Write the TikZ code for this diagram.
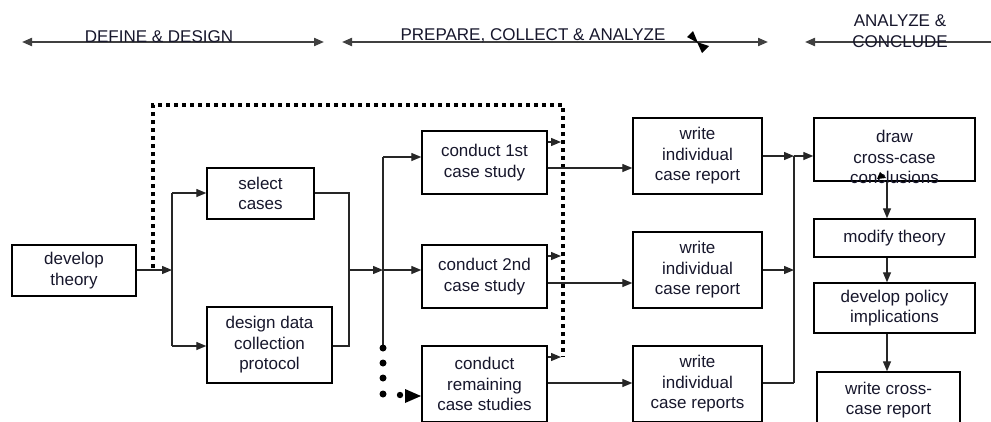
\documentclass[tikz,border=0pt]{standalone}
\usepackage{fontspec}
\setmainfont{Liberation Sans}
\usetikzlibrary{arrows.meta}
\definecolor{ink}{HTML}{17172C}
\tikzset{
  box/.style={draw=black, line width=1.4pt, inner sep=0pt, align=center,
              text=ink, font=\fontsize{17}{20.5}\selectfont},
  txt/.style={inner sep=0pt, align=center, text=ink, font=\fontsize{17}{20.5}\selectfont},
  conn/.style={draw=black!85, line width=1.3pt},
  arr/.style={conn, -{Triangle[length=10pt,width=8pt]}},
  phase/.style={draw=black!75, line width=2pt,
                {Triangle[length=10pt,width=8pt]}-{Triangle[length=10pt,width=8pt]}},
  feedback/.style={draw=black, line width=4pt, dash pattern=on 4pt off 4pt},
}
\begin{document}
\begin{tikzpicture}[x=1pt, y=-1pt]
\useasboundingbox (0,0) rectangle (991,421);
\fill[white] (0,0) rectangle (991,421);
\clip (0,0) rectangle (991,421);

% phase bars
\draw[phase] (22,42) -- (324,42);
\draw[phase] (342,42) -- (768,42);
\draw[phase] (805,42) -- (1001,42);
\node[txt, anchor=base] (p1) at (159,42) {DEFINE \& DESIGN};
\node[txt, anchor=base] (p2) at (533,40) {PREPARE, COLLECT \& ANALYZE};
\node[txt, anchor=base] (p3a) at (900,26) {ANALYZE \&};
\node[txt, anchor=base] (p3b) at (900,47) {CONCLUDE};
\fill[black] (687,37) -- (693,31) -- (698,43) -- cycle;
\fill[black] (697,42) -- (709,46) -- (702,53) -- cycle;

% boxes
\node[box, minimum width=124pt, minimum height=51pt] (theory) at (74,270.5) {develop\\theory};
\node[box, minimum width=107pt, minimum height=51pt] (select) at (260.5,193.5) {select\\cases};
\node[box, minimum width=125pt, minimum height=76pt] (design) at (269.5,345) {design data\\collection\\protocol};
\node[box, minimum width=125pt, minimum height=63pt] (c1) at (484.5,162.5) {conduct 1st\\case study};
\node[box, minimum width=125pt, minimum height=63pt] (c2) at (484.5,276.5) {conduct 2nd\\case study};
\node[box, minimum width=125pt, minimum height=76pt] (c3) at (484.5,384) {conduct\\remaining\\case studies};
\node[box, minimum width=129pt, minimum height=76pt] (w1) at (697.5,156) {write\\individual\\case report};
\node[box, minimum width=129pt, minimum height=76pt] (w2) at (697.5,270) {write\\individual\\case report};
\node[box, minimum width=129pt, minimum height=76pt] (w3) at (697.5,384) {write\\individual\\case reports};
\node[box, minimum width=161pt, minimum height=63pt] (cross) at (894.5,149.5) {};
\node[txt] (crosstxt) at (894.5,157) {draw\\cross-case\\conclusions};
\node[box, minimum width=161pt, minimum height=38pt] (modify) at (894.5,238) {modify theory};
\node[box, minimum width=161pt, minimum height=50pt] (policy) at (894.5,308) {develop policy\\implications};
\node[box, minimum width=143pt, minimum height=56pt] (report) at (888.5,400) {write cross-\\case report};

% junction points
\coordinate (j1) at (172,270);
\coordinate (j1t) at (172,193);
\coordinate (j1b) at (172,346);
\coordinate (j2t) at (349,193);
\coordinate (j2b) at (349,346);
\coordinate (j2) at (349,270);
\coordinate (j3) at (383,270);
\coordinate (j3t) at (383,157);
\coordinate (j3b) at (383,348);
\coordinate (j4) at (794,156);
\coordinate (j4m) at (794,270);
\coordinate (j4b) at (794,383);

% design phase connectors
\draw[arr] (theory.east |- j1) -- (j1);
\draw[conn] (j1t) -- (j1b);
\draw[arr] (j1t) -- (select.west |- j1t);
\draw[arr] (j1b) -- (design.west |- j1b);
\draw[conn] (select.east |- j2t) -- (j2t) -- (j2b) -- (design.east |- j2b);
\draw[arr] (j2) -- (j3);
\draw[conn] (j3t) -- (j3b);
\draw[arr] (j3t) -- (c1.west |- j3t);
\draw[arr] (j3) -- (c2.west |- j3);

% dotted continuation to the remaining cases
\foreach \yy in {348,363,378,394} \fill[black] (383,\yy) circle (3.5pt);
\fill[black] (400,395) circle (3.2pt);
\fill[black] (405,389) -- (421,396) -- (405,403) -- cycle;

% feedback loop
\coordinate (fb0) at (153,268);
\coordinate (fb1) at (153,105);
\coordinate (fb2) at (563,105);
\coordinate (fb3) at (563,357);
\draw[feedback] (fb0) -- (fb1) -- (fb2) -- (fb3);

% case studies to loop and reports
\draw[arr] (c1.east |- 0,142) -- (561,142);
\draw[arr] (c2.east |- 0,256) -- (561,256);
\draw[arr] (c3.east |- 0,357) -- (561,357);
\draw[arr] (c1.east |- 0,168) -- (w1.west |- 0,168);
\draw[arr] (c2.east |- 0,283) -- (w2.west |- 0,283);
\draw[arr] (c3.east |- 0,383) -- (w3.west |- 0,383);

% reports to cross-case conclusions
\draw[arr] (w1.east |- j4) -- (j4);
\draw[arr] (j4) -- (cross.west |- j4);
\draw[conn] (j4) -- (j4b);
\draw[arr] (w2.east |- j4m) -- (j4m);
\draw[conn] (w3.east |- j4b) -- (j4b);

% analysis chain
\draw[arr] (cross.south -| 887,0) -- (modify.north -| 887,0);
\draw[arr] (modify.south -| 887,0) -- (policy.north -| 887,0);
\draw[arr] (policy.south -| 887,0) -- (report.north -| 887,0);
\fill[black] (877,179) -- (880,172) -- (886,178) -- cycle;
\end{tikzpicture}
\end{document}
